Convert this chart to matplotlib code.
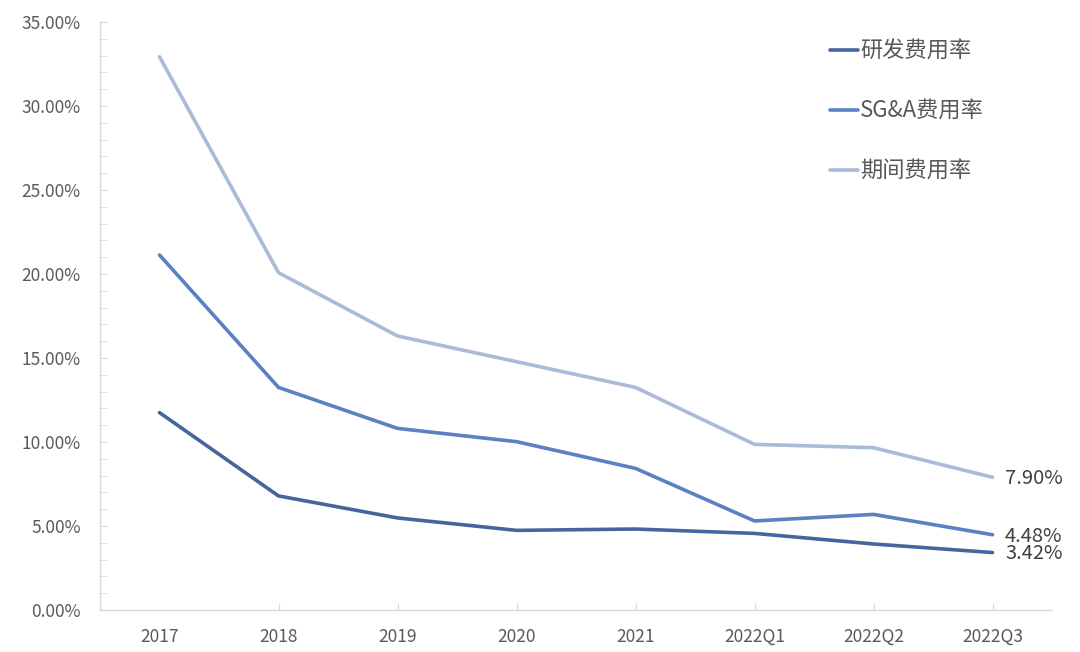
import matplotlib

matplotlib.use("Agg")
import matplotlib.pyplot as plt
from matplotlib.ticker import FuncFormatter, MultipleLocator

plt.rcParams["font.family"] = ["Noto Sans CJK SC", "DejaVu Sans"]

periods = ["2017", "2018", "2019", "2020", "2021", "2022Q1", "2022Q2", "2022Q3"]
rd_rate = [11.75, 6.79, 5.48, 4.74, 4.82, 4.56, 3.93, 3.42]
sga_rate = [21.13, 13.25, 10.81, 10.02, 8.43, 5.30, 5.69, 4.48]
period_rate = [32.93, 20.08, 16.31, 14.78, 13.25, 9.86, 9.66, 7.90]
series_names = ["研发费用率", "SG&A费用率", "期间费用率"]
colors = ["#46659c", "#5a81c1", "#aabbd7"]

TXT = "#595959"

fig = plt.figure(figsize=(10.8, 6.52), dpi=100)
ax = fig.add_axes([100 / 1080, 1 - 610 / 652, 952 / 1080, 588 / 652])

x = list(range(len(periods)))
for vals, name, c in zip([rd_rate, sga_rate, period_rate], series_names, colors):
    ax.plot(x, vals, color=c, lw=2.6, label=name, solid_capstyle="round")

# end-of-line value labels
for vals in (period_rate, sga_rate, rd_rate):
    ax.annotate(f"{vals[-1]:.2f}%", (x[-1], vals[-1]), xytext=(9, -1),
                textcoords="offset points", va="center", ha="left",
                fontsize=14.5, color="#404040")

ax.set_xlim(-0.5, len(periods) - 0.5)
ax.set_ylim(0, 35)
ax.yaxis.set_major_locator(MultipleLocator(5))
ax.yaxis.set_minor_locator(MultipleLocator(1))
ax.yaxis.set_major_formatter(FuncFormatter(lambda v, _: f"{v:.2f}%"))
ax.set_xticks(x)
ax.set_xticklabels(periods)

for s in ("top", "right"):
    ax.spines[s].set_visible(False)
for s in ("left", "bottom"):
    ax.spines[s].set_color("#d9d9d9")
    ax.spines[s].set_linewidth(1.0)

ax.tick_params(axis="y", which="both", direction="in", length=5,
               color="#d9d9d9", labelsize=12.5, labelcolor=TXT, pad=14)
ax.tick_params(axis="x", direction="in", length=5, color="#d9d9d9",
               labelsize=12.5, labelcolor=TXT, pad=13)
ax.get_xticklines()[0].set_visible(False)

leg = ax.legend(loc="upper left", bbox_to_anchor=(0.746, 1.004), frameon=False,
                fontsize=16, handlelength=1.25, handletextpad=0.1,
                labelspacing=1.66, labelcolor=TXT)

fig.savefig("out.png", dpi=100)
